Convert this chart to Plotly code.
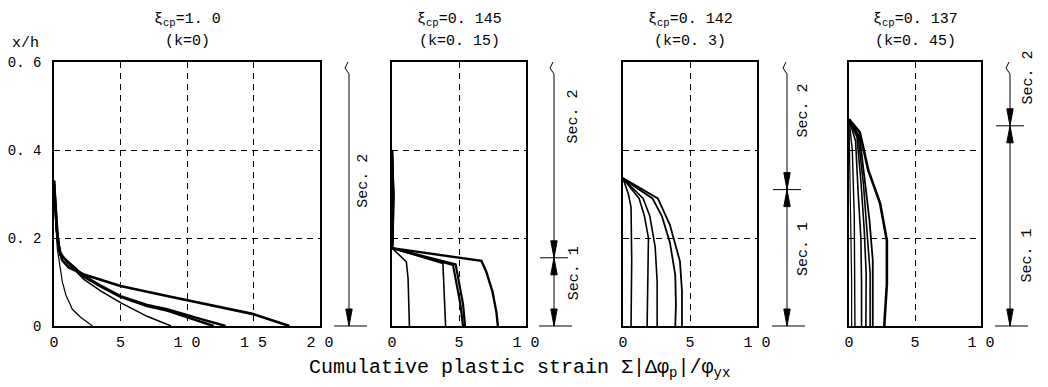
import plotly.graph_objects as go

W, H = 1048, 387
FONT = "Liberation Mono"

# ---------------- data (x = cumulative plastic strain, y = x/h) ----------------
# Panel 1: xi_cp = 1.0 (k = 0)
k0_x = [
    [0, 0.1, 0.25, 0.45, 0.63, 0.9, 1.38, 2.0, 2.9],
    [0, 0.2, 0.45, 1.0, 2.25, 3.5, 5.0, 7.0, 8.8],
    [0, 0.2, 0.45, 1.0, 2.25, 3.5, 5.0, 7.0, 8.5, 10.5, 12.0],
    [0, 0.2, 0.45, 1.0, 2.25, 3.5, 5.0, 7.0, 8.5, 11.0, 12.9],
    [0, 0.15, 0.3, 0.6, 1.1, 2.25, 5.0, 8.5, 12.0, 15.0, 17.7],
]
k0_y = [
    [0.33, 0.25, 0.175, 0.13, 0.10, 0.07, 0.038, 0.02, 0.0],
    [0.33, 0.22, 0.17, 0.144, 0.106, 0.08, 0.053, 0.022, 0.0],
    [0.33, 0.22, 0.165, 0.146, 0.112, 0.09, 0.066, 0.045, 0.035, 0.016, 0.0],
    [0.33, 0.22, 0.162, 0.148, 0.114, 0.092, 0.068, 0.048, 0.038, 0.016, 0.0],
    [0.33, 0.25, 0.19, 0.15, 0.133, 0.117, 0.091, 0.068, 0.045, 0.027, 0.0],
]
k0_w = [1.2, 1.5, 2.4, 2.4, 2.6]

# Panel 2: xi_cp = 0.145 (k = 0.15)
k15_x = [
    [0, 0.1, 0.05, 0, 1.07, 1.2, 1.3],
    [0, 0.1, 0.05, 0, 3.8, 3.88, 4.0],
    [0, 0.1, 0.05, 0, 4.55, 4.8, 5.1, 5.3],
    [0, 0.1, 0.05, 0, 4.75, 5.0, 5.3, 5.45],
    [0, 0.1, 0.05, 0, 6.67, 7.04, 7.5, 7.8, 7.9],
]
k15_y = [
    [0.40, 0.30, 0.20, 0.177, 0.146, 0.108, 0.0],
    [0.40, 0.30, 0.20, 0.177, 0.142, 0.09, 0.0],
    [0.40, 0.30, 0.20, 0.177, 0.139, 0.10, 0.05, 0.0],
    [0.40, 0.30, 0.20, 0.177, 0.14, 0.10, 0.05, 0.0],
    [0.40, 0.30, 0.20, 0.177, 0.148, 0.123, 0.078, 0.03, 0.0],
]
k15_w = [1.6, 1.6, 2.2, 2.2, 2.4]

# Panel 3: xi_cp = 0.142 (k = 0.3)
k30_x = [
    [0, 0.4, 0.6, 0.65, 0.6],
    [0, 1.2, 1.6, 1.9, 1.85, 1.8],
    [0, 1.5, 2.0, 2.4, 2.55, 2.55],
    [0, 2.2, 2.9, 3.5, 3.9, 3.95, 3.9],
    [-0.25, 2.6, 3.5, 4.25, 4.4, 4.4],
]
k30_y = [
    [0.335, 0.30, 0.27, 0.15, 0.0],
    [0.335, 0.29, 0.25, 0.20, 0.10, 0.0],
    [0.335, 0.29, 0.25, 0.18, 0.10, 0.0],
    [0.335, 0.29, 0.25, 0.19, 0.116, 0.05, 0.0],
    [0.341, 0.29, 0.23, 0.147, 0.08, 0.0],
]
k30_w = [1.6, 1.6, 1.6, 1.8, 1.8]

# Panel 4: xi_cp = 0.137 (k = 0.45)
k45_x = [
    [0, 0.1, 0.2, 0.2],
    [0, 0.25, 0.4, 0.45, 0.45],
    [0, 0.5, 0.7, 0.9, 0.95, 0.95],
    [0, 0.6, 0.9, 1.15, 1.3, 1.28],
    [0, 0.7, 1.1, 1.4, 1.6, 1.6],
    [0, 0.8, 1.2, 1.55, 1.8, 1.8],
    [0, 0.82, 1.46, 2.36, 2.87, 2.87, 2.67],
]
k45_y = [
    [0.47, 0.30, 0.10, 0.0],
    [0.47, 0.40, 0.25, 0.10, 0.0],
    [0.47, 0.42, 0.30, 0.20, 0.10, 0.0],
    [0.47, 0.43, 0.33, 0.22, 0.12, 0.0],
    [0.47, 0.43, 0.32, 0.21, 0.12, 0.0],
    [0.47, 0.43, 0.33, 0.24, 0.15, 0.0],
    [0.47, 0.44, 0.354, 0.278, 0.194, 0.095, 0.0],
]
k45_w = [1.2, 1.4, 1.6, 1.6, 1.6, 1.8, 2.6]

titles_top = ["ξ<sub>cp</sub>=1. 0", "ξ<sub>cp</sub>=0. 145", "ξ<sub>cp</sub>=0. 142", "ξ<sub>cp</sub>=0. 137"]
titles_bot = ["(k=0)", "(k=0. 15)", "(k=0. 3)", "(k=0. 45)"]
x_max = [20, 10, 10, 10]
x_tickvals = [[0, 5, 10, 15, 20], [0, 5, 10], [0, 5, 10], [0, 5, 10]]
x_ticktext = [["0", "5", "1 0", "1 5", "2 0"], ["0", "5", "1 0"], ["0", "5", "1 0"], ["0", "5", "1 0"]]
y_tickvals = [0, 0.2, 0.4, 0.6]
y_ticktext = ["0", "0. 2", "0. 4", "0. 6"]
sec_split = [None, 0.155, 0.31, 0.455]
sec2_label_y = [0.33, 0.476, 0.49, 0.565]
sec1_label_y = [None, 0.12, 0.175, 0.16]

# ---------------- layout geometry (pixels) ----------------
panel_px = [(54, 320), (392, 526), (623, 757), (849, 981)]
plot_top, plot_bot = 62, 326
sec_line_px = [349, 554, 787, 1010]
sec_label_px = [364, 574, 803, 1028]

ydom = [(H - plot_bot) / H, (H - plot_top) / H]
dpx = 0.6 / (plot_bot - plot_top)  # data units per pixel in y

all_x = [k0_x, k15_x, k30_x, k45_x]
all_y = [k0_y, k15_y, k30_y, k45_y]
all_w = [k0_w, k15_w, k30_w, k45_w]

fig = go.Figure()
layout = dict(
    width=W, height=H, margin=dict(l=0, r=0, t=0, b=0, pad=0, autoexpand=False),
    paper_bgcolor="white", plot_bgcolor="rgba(0,0,0,0)",
    showlegend=False, font=dict(family=FONT, color="black", size=14),
)

for i in range(4):
    sid = "" if i == 0 else str(i + 1)
    for cx, cy, w in zip(all_x[i], all_y[i], all_w[i]):
        fig.add_trace(go.Scatter(x=cx, y=cy, mode="lines",
                                 line=dict(color="black", width=w),
                                 xaxis="x" + sid, yaxis="y" + sid,
                                 hoverinfo="skip", showlegend=False))
    x0, x1 = panel_px[i]
    layout["xaxis" + sid] = dict(
        domain=[x0 / W, x1 / W], range=[0, x_max[i]], anchor="y" + sid,
        tickvals=x_tickvals[i], ticktext=x_ticktext[i], ticks="",
        ticklabelstandoff=1, tickfont=dict(family=FONT, size=15, color="black"),
        showgrid=True, gridcolor="black", gridwidth=1, griddash="6px,5px",
        showline=True, mirror=True, linecolor="black", linewidth=1.5,
        zeroline=False, fixedrange=True, automargin=False,
    )
    layout["yaxis" + sid] = dict(
        domain=ydom, range=[0, 0.6], anchor="x" + sid,
        tickvals=y_tickvals, ticktext=y_ticktext, ticks="",
        showticklabels=(i == 0), ticklabelstandoff=8,
        tickfont=dict(family=FONT, size=14, color="black"),
        showgrid=True, gridcolor="black", gridwidth=1, griddash="6px,5px",
        showline=True, mirror=True, linecolor="black", linewidth=1.5,
        zeroline=False, fixedrange=True, automargin=False,
    )

# overlay axis in pixel x / data y for the section arrows
ov_top, ov_bot = plot_top - 8, plot_bot + 10
fig.add_trace(go.Scatter(x=[None], y=[None], xaxis="x5", yaxis="y5",
                         hoverinfo="skip", showlegend=False))
layout["xaxis5"] = dict(domain=[0, 1], range=[0, W], visible=False, anchor="y5", fixedrange=True)
layout["yaxis5"] = dict(domain=[(H - ov_bot) / H, (H - ov_top) / H],
                        range=[-(ov_bot - plot_bot) * dpx, 0.6 + (plot_top - ov_top) * dpx],
                        visible=False, anchor="x5", fixedrange=True)

shapes = []
annotations = []
L = 17 * dpx   # arrowhead length
hw = 3.2       # arrowhead half width (px)


def seg(xa, ya, xb, yb, w=1):
    shapes.append(dict(type="line", xref="x5", yref="y5", x0=xa, y0=ya, x1=xb, y1=yb,
                       line=dict(color="black", width=w)))


def head(x, tip, direction):
    base = tip + L if direction == "down" else tip - L
    shapes.append(dict(type="path", xref="x5", yref="y5",
                       path=f"M{x - hw},{base} L{x + hw},{base} L{x},{tip} Z",
                       fillcolor="black", line=dict(color="black", width=1)))


def label(xref, yref, x, y, text, size=15, angle=0):
    annotations.append(dict(xref=xref, yref=yref, x=x, y=y, text=text, textangle=angle,
                            showarrow=False, xanchor="center", yanchor="middle",
                            font=dict(family=FONT, size=size, color="black")))


for i in range(4):
    lx = sec_line_px[i]
    ztop = 0.6
    # vertical line with break mark at top
    seg(lx, 0, lx, ztop - 12 * dpx)
    shapes.append(dict(type="path", xref="x5", yref="y5",
                       path=f"M{lx},{ztop - 12 * dpx} L{lx - 4},{ztop - 6 * dpx} L{lx - 1},{ztop}",
                       line=dict(color="black", width=1)))
    # bottom base line
    seg(lx - 15, 0, lx + 18, 0)
    head(lx, 0, "down")
    s = sec_split[i]
    if s is not None:
        seg(lx - 14, s, lx + 14, s)
        head(lx, s, "down")
        head(lx, s, "up")
    # section labels
    label("x5", "y5", sec_label_px[i], sec2_label_y[i], "Sec. 2", 15, -90)
    if sec1_label_y[i] is not None:
        label("x5", "y5", sec_label_px[i], sec1_label_y[i], "Sec. 1", 15, -90)
    # panel titles
    cx = (panel_px[i][0] + panel_px[i][1]) / 2 / W
    label("paper", "paper", cx, 1 - 20 / H, titles_top[i], 15)
    label("paper", "paper", cx, 1 - 41 / H, titles_bot[i], 15)

label("paper", "paper", 25 / W, 1 - 43 / H, "x/h", 15)
label("paper", "paper", 519 / W, 1 - 368 / H,
      "Cumulative plastic strain Σ|Δφ<sub>p</sub>|/φ<sub>yx</sub>", 20)

layout["shapes"] = shapes
layout["annotations"] = annotations
fig.update_layout(**layout)
fig.write_html("out.html",
               config={"displayModeBar": False},
               post_script="document.body.style.margin='0';document.body.style.padding='0';"
                           "document.body.style.overflow='hidden';")
